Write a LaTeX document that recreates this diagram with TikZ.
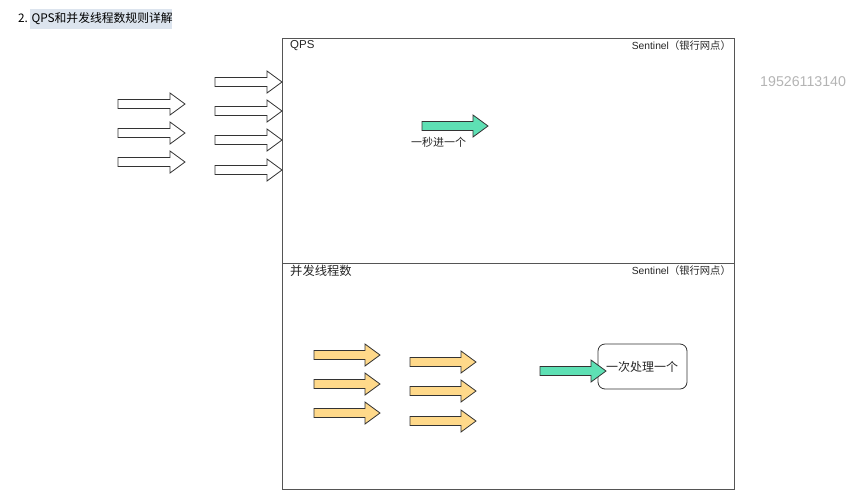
\documentclass[tikz,border=0pt]{standalone}
\usepackage{fontspec}
\setmainfont{Noto Sans CJK SC}
\newfontfamily\latinfont{Liberation Sans}
\definecolor{arrowline}{HTML}{333333}
\definecolor{mintfill}{HTML}{5EE0B4}
\definecolor{goldfill}{HTML}{FFD98A}
\definecolor{hilite}{HTML}{DCE4EE}
\definecolor{wmgray}{HTML}{B4B4B4}
\definecolor{frameline}{HTML}{555555}
\tikzset{
  whitearrow/.style={draw=arrowline, fill=white, line width=0.8pt, line join=miter},
  mintarrow/.style={draw=arrowline, fill=mintfill, line width=0.8pt, line join=miter},
  goldarrow/.style={draw=arrowline, fill=goldfill, line width=0.8pt, line join=miter},
  panel/.style={draw=frameline, line width=0.8pt},
  lbl/.style={inner sep=0pt, font=\fontsize{11}{13}\selectfont, text=black!85}
}
% #1 style, #2 x start, #3 x tip, #4 y centre
\newcommand\blockarrow[4]{%
  \draw[#1] (#2,#4-4.5) -- (#3-15,#4-4.5) -- (#3-15,#4-11) -- (#3,#4)
    -- (#3-15,#4+11) -- (#3-15,#4+4.5) -- (#2,#4+4.5) -- cycle;}
\begin{document}
\begin{tikzpicture}[x=1pt,y=-1pt]
\useasboundingbox (0,0) rectangle (867,496);
% title
\fill[hilite] (30,9) rectangle (172,29);
\node[anchor=west, inner sep=0pt, font=\fontsize{11.8}{14}\selectfont] (title) at (18,19) {2. QPS和并发线程数规则详解};
% watermark
\node[anchor=west, inner sep=0pt, text=wmgray, font=\latinfont\fontsize{14.2}{16}\selectfont] (wm) at (760,82) {19526113140};
% panels
\draw[panel] (282,38) rectangle (734,489);
\draw[panel] (282,263) -- (734,263);
\node[lbl, anchor=west, font=\latinfont\fontsize{11.5}{13}\selectfont] (qps) at (290,45.5) {QPS};
\node[lbl, anchor=east, font=\fontsize{10.3}{12}\selectfont] (sent1) at (731,45.5) {{\latinfont Sentinel}（银行网点）};
\node[lbl, anchor=west, font=\fontsize{12.3}{14}\selectfont] (conc) at (290,271) {并发线程数};
\node[lbl, anchor=east, font=\fontsize{10.3}{12}\selectfont] (sent2) at (731,271) {{\latinfont Sentinel}（银行网点）};
% white incoming arrows
\blockarrow{whitearrow}{118}{185}{104}
\blockarrow{whitearrow}{118}{185}{133}
\blockarrow{whitearrow}{118}{185}{162}
\blockarrow{whitearrow}{215}{282}{82}
\blockarrow{whitearrow}{215}{282}{111}
\blockarrow{whitearrow}{215}{282}{140}
\blockarrow{whitearrow}{215}{282}{170}
% qps green arrow
\blockarrow{mintarrow}{422}{488}{126}
\node[lbl, font=\fontsize{11}{13}\selectfont] (persec) at (438.5,142) {一秒进一个};
% gold arrows
\blockarrow{goldarrow}{314}{380}{355}
\blockarrow{goldarrow}{314}{380}{384}
\blockarrow{goldarrow}{314}{380}{413}
\blockarrow{goldarrow}{410}{476}{362}
\blockarrow{goldarrow}{410}{476}{391}
\blockarrow{goldarrow}{410}{476}{421}
% processing box
\node[draw=arrowline, line width=0.8pt, rounded corners=7pt, minimum width=89pt, minimum height=45pt, inner sep=0pt] (proc) at (642.5,366.5) {};
\blockarrow{mintarrow}{540}{606}{371}
\node[lbl, font=\fontsize{12}{14}\selectfont] (proctxt) at (642,367) {一次处理一个};
\end{tikzpicture}
\end{document}
